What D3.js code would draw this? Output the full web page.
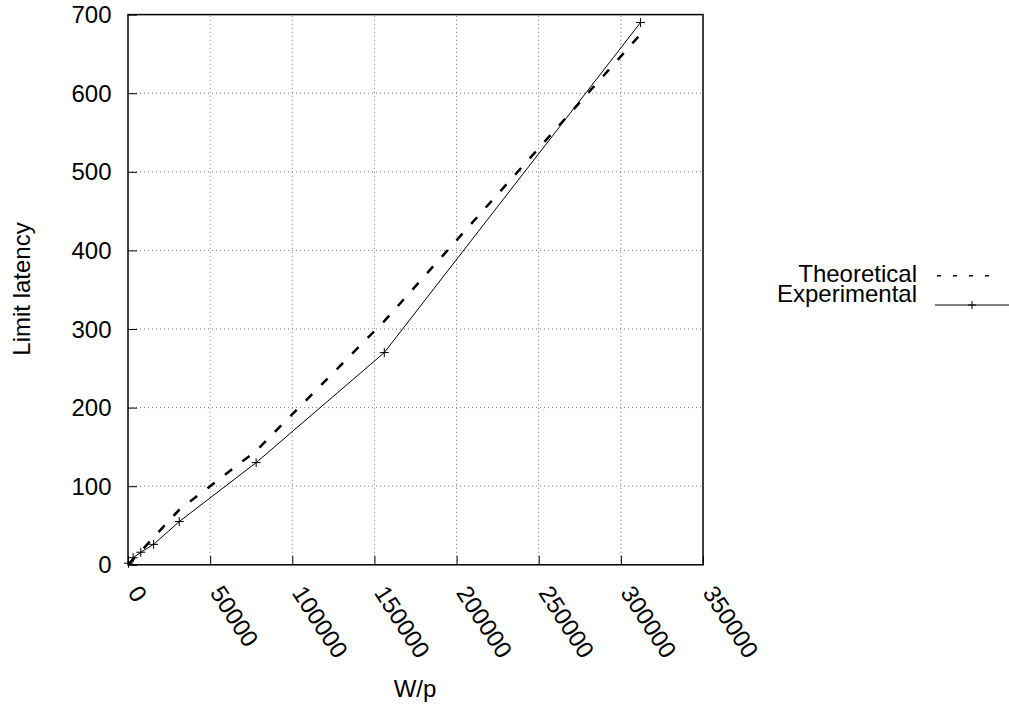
<!DOCTYPE html>
<html>
<head>
<meta charset="utf-8">
<script src="https://cdn.jsdelivr.net/npm/d3@7"></script>
<style>
  html, body { margin: 0; padding: 0; background: #fff; }
  svg { display: block; font-family: "Liberation Sans", Arial, Helvetica, sans-serif; }
</style>
</head>
<body>
<svg id="chart" width="1009" height="709"></svg>
<script>
// ---- data ----
const wp = [312, 3120, 7800, 15600, 31200, 78000, 156000, 312000];
const theoretical = [0.7, 7, 17, 35, 70, 145, 310, 675];
const experimental = [2, 9, 16, 26, 55, 130, 270, 690];
const xTicks = [0, 50000, 100000, 150000, 200000, 250000, 300000, 350000];
const yTicks = [0, 100, 200, 300, 400, 500, 600, 700];
const seriesNames = ["Theoretical", "Experimental"];
const xLabel = "W/p";
const yLabel = "Limit latency";

// ---- layout ----
const L = 128, R = 703, T = 14.6, B = 564.8;
const FS = 24;
const svg = d3.select("#chart");
svg.append("rect").attr("width", 1009).attr("height", 709).attr("fill", "#fff");

const x = d3.scaleLinear().domain([0, 350000]).range([L, R]);
const y = d3.scaleLinear().domain([0, 700]).range([B, T]);

// grid
const grid = svg.append("g");
grid.selectAll(".gx").data(xTicks.filter(d => d > 0 && d < 350000)).enter().append("line")
  .attr("x1", d => x(d)).attr("x2", d => x(d)).attr("y1", B).attr("y2", T)
  .attr("stroke", "#777").attr("stroke-width", 1).attr("stroke-dasharray", "1,3");
grid.selectAll(".gy").data(yTicks.filter(d => d > 0 && d < 700)).enter().append("line")
  .attr("y1", d => y(d)).attr("y2", d => y(d)).attr("x1", L).attr("x2", R)
  .attr("stroke", "#777").attr("stroke-width", 1).attr("stroke-dasharray", "1,3");

// axes (ticks inward, no mirror)
const xAxis = d3.axisBottom(x).tickValues(xTicks).tickSizeInner(-9).tickSizeOuter(0).tickFormat("");
const yAxis = d3.axisLeft(y).tickValues(yTicks).tickSizeInner(-9).tickSizeOuter(0).tickFormat("");
const gx = svg.append("g").attr("transform", `translate(0,${B})`).call(xAxis);
const gy = svg.append("g").attr("transform", `translate(${L},0)`).call(yAxis);
[gx, gy].forEach(g => {
  g.select(".domain").remove();
  g.selectAll(".tick line").attr("stroke", "#000").attr("stroke-width", 1);
});

// x tick labels rotated
svg.append("g").selectAll("text").data(xTicks).enter().append("text")
  .attr("transform", d => `translate(${x(d) - 1},${B + 28}) rotate(57)`)
  .attr("text-anchor", "start")
  .attr("font-size", FS)
  .attr("fill", "#000")
  .text(d => d);

// y tick labels
svg.append("g").selectAll("text").data(yTicks).enter().append("text")
  .attr("x", L - 16.5).attr("y", d => y(d)).attr("dy", "0.36em")
  .attr("text-anchor", "end").attr("font-size", FS).attr("fill", "#000")
  .text(d => d);

// frame
svg.append("rect").attr("x", L).attr("y", T).attr("width", R - L).attr("height", B - T)
  .attr("fill", "none").attr("stroke", "#000").attr("stroke-width", 1.5);

// axis titles
svg.append("text").attr("x", 415).attr("y", 697).attr("text-anchor", "middle")
  .attr("font-size", FS).text(xLabel);
svg.append("text").attr("transform", `translate(30,289) rotate(-90)`).attr("text-anchor", "middle")
  .attr("font-size", FS).text(yLabel);

// lines
const tData = wp.map((w, i) => [w, theoretical[i]]);
const eData = wp.map((w, i) => [w, experimental[i]]);
const line = d3.line().x(d => x(d[0])).y(d => y(d[1]));

svg.append("path").datum(tData).attr("d", line)
  .attr("fill", "none").attr("stroke", "#000").attr("stroke-width", 2.5)
  .attr("stroke-dasharray", "9,13");

svg.append("path").datum(eData).attr("d", line)
  .attr("fill", "none").attr("stroke", "#000").attr("stroke-width", 1);

const plus = (g, cx, cy, s) => {
  g.append("path").attr("d", `M${cx - s},${cy}H${cx + s}M${cx},${cy - s}V${cy + s}`)
    .attr("stroke", "#000").attr("stroke-width", 1).attr("fill", "none");
};
const marks = svg.append("g");
eData.forEach(d => plus(marks, x(d[0]), y(d[1]), 4.5));

// legend
const lg = svg.append("g");
lg.append("text").attr("x", 917).attr("y", 281.5).attr("text-anchor", "end")
  .attr("font-size", FS).text(seriesNames[0]);
lg.append("text").attr("x", 917).attr("y", 301.5).attr("text-anchor", "end")
  .attr("font-size", FS).text(seriesNames[1]);
lg.append("line").attr("x1", 937).attr("x2", 990).attr("y1", 275.7).attr("y2", 275.7)
  .attr("stroke", "#000").attr("stroke-width", 1.5).attr("stroke-dasharray", "4,12");
lg.append("line").attr("x1", 935).attr("x2", 1009).attr("y1", 305).attr("y2", 305)
  .attr("stroke", "#000").attr("stroke-width", 1);
plus(lg, 972, 305, 4);
</script>
</body>
</html>
